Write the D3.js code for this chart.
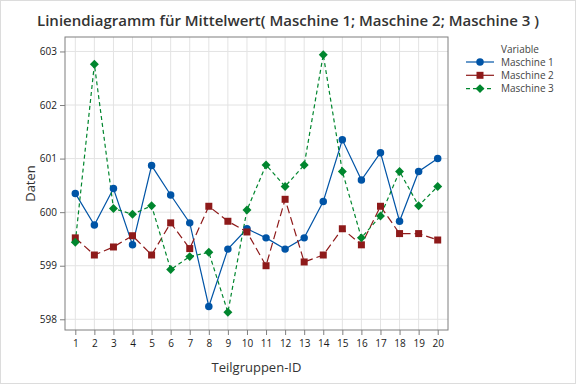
<!DOCTYPE html>
<html>
<head>
<meta charset="utf-8">
<script src="https://cdn.jsdelivr.net/npm/d3@7"></script>
<style>
  body { margin: 0; background: #fff; }
  svg { font-family: "Open Sans", "Noto Sans", sans-serif; }
</style>
</head>
<body>
<div id="chart"></div>
<script>
const ids = d3.range(1, 21);
const maschine1 = [600.35, 599.76, 600.44, 599.39, 600.87, 600.32, 599.80, 598.24, 599.31, 599.69,
                   599.52, 599.31, 599.52, 600.20, 601.35, 600.60, 601.11, 599.83, 600.76, 601.00];
const maschine2 = [599.52, 599.20, 599.35, 599.56, 599.20, 599.80, 599.32, 600.11, 599.83, 599.63,
                   599.00, 600.24, 599.07, 599.20, 599.69, 599.39, 600.11, 599.60, 599.60, 599.48];
const maschine3 = [599.44, 602.76, 600.07, 599.96, 600.12, 598.93, 599.17, 599.25, 598.13, 600.04,
                   600.88, 600.48, 600.88, 602.94, 600.76, 599.52, 599.93, 600.76, 600.12, 600.48];
const yTicks = [598, 599, 600, 601, 602, 603];

// diamond = square turned by 45 degrees
const diamond = {
  draw(ctx, size) {
    const r = Math.sqrt(size / 2);
    ctx.moveTo(0, -r); ctx.lineTo(r, 0); ctx.lineTo(0, r); ctx.lineTo(-r, 0); ctx.closePath();
  }
};

const series = [
  {name: "Maschine 1", values: maschine1, color: "#0054a6", dash: null, symbol: d3.symbolCircle, size: 44},
  {name: "Maschine 2", values: maschine2, color: "#8e1a1a", dash: "8,4", symbol: d3.symbolSquare, size: 49},
  {name: "Maschine 3", values: maschine3, color: "#00862e", dash: "4,3", symbol: diamond, size: 40}
];

const width = 576, height = 384;
const margin = {top: 37, right: 128, bottom: 54, left: 65};

const svg = d3.select("#chart").append("svg")
    .attr("width", width)
    .attr("height", height);

svg.append("rect")
    .attr("x", 0.5).attr("y", 0.5)
    .attr("width", width - 1).attr("height", height - 1)
    .attr("fill", "#fff").attr("stroke", "#dcdcdc");

const x = d3.scalePoint()
    .domain(ids)
    .range([margin.left, width - margin.right])
    .padding(0.54);

const y = d3.scaleLinear()
    .domain([597.8, 603.27])
    .range([height - margin.bottom, margin.top]);

// grid
const grid = svg.append("g");
grid.selectAll(".vg").data(ids).enter().append("line")
    .attr("x1", d => x(d)).attr("x2", d => x(d))
    .attr("y1", margin.top).attr("y2", height - margin.bottom)
    .attr("stroke", "#e3e3e3");
grid.selectAll(".hg").data(yTicks).enter().append("line")
    .attr("x1", margin.left).attr("x2", width - margin.right)
    .attr("y1", d => y(d)).attr("y2", d => y(d))
    .attr("stroke", "#e3e3e3");

// frame
svg.append("rect")
    .attr("x", margin.left).attr("y", margin.top)
    .attr("width", width - margin.right - margin.left)
    .attr("height", height - margin.bottom - margin.top)
    .attr("fill", "none").attr("stroke", "#7f7f7f");

// axes
const xAxis = svg.append("g")
    .attr("transform", `translate(0,${height - margin.bottom})`)
    .call(d3.axisBottom(x).tickSize(5).tickPadding(5));
const yAxis = svg.append("g")
    .attr("transform", `translate(${margin.left},0)`)
    .call(d3.axisLeft(y).tickValues(yTicks).tickFormat(d3.format("d")).tickSize(5).tickPadding(3));
[xAxis, yAxis].forEach(a => {
  a.select(".domain").remove();
  a.selectAll(".tick line").attr("stroke", "#7f7f7f");
  a.selectAll(".tick text").attr("fill", "#1a1a1a").style("font-size", "10px")
    .style("font-family", "'Open Sans', 'Noto Sans', sans-serif");
});

// lines and markers
const line = d3.line()
    .x((d, i) => x(ids[i]))
    .y(d => y(d));

series.forEach(s => {
  svg.append("path")
      .datum(s.values)
      .attr("d", line)
      .attr("fill", "none")
      .attr("stroke", s.color)
      .attr("stroke-width", 1.2)
      .attr("stroke-dasharray", s.dash);
});
series.forEach(s => {
  svg.append("g").selectAll("path")
      .data(s.values)
      .enter().append("path")
      .attr("transform", (d, i) => `translate(${x(ids[i])},${y(d)})`)
      .attr("d", d3.symbol().type(s.symbol).size(s.size))
      .attr("fill", s.color);
});

// titles
svg.append("text")
    .attr("x", 288).attr("y", 26)
    .attr("text-anchor", "middle")
    .attr("fill", "#333")
    .style("font-size", "15px")
    .style("font-weight", "600")
    .text("Liniendiagramm für Mittelwert( Maschine 1; Maschine 2; Maschine 3 )");

svg.append("text")
    .attr("x", (margin.left + width - margin.right) / 2)
    .attr("y", 372)
    .attr("text-anchor", "middle")
    .attr("fill", "#333")
    .style("font-size", "13px")
    .text("Teilgruppen-ID");

svg.append("text")
    .attr("transform", `translate(35,${(margin.top + height - margin.bottom) / 2}) rotate(-90)`)
    .attr("text-anchor", "middle")
    .attr("fill", "#333")
    .style("font-size", "13px")
    .text("Daten");

// legend
const legend = svg.append("g").attr("transform", "translate(466,0)");
legend.append("text")
    .attr("x", 35).attr("y", 53)
    .attr("fill", "#444")
    .style("font-size", "10px")
    .text("Variable");
series.forEach((s, i) => {
  const ly = 62 + i * 13.3;
  legend.append("line")
      .attr("x1", 0).attr("x2", 28)
      .attr("y1", ly).attr("y2", ly)
      .attr("stroke", s.color)
      .attr("stroke-width", 1.2)
      .attr("stroke-dasharray", i === 2 ? "4,3" : null);
  legend.append("path")
      .attr("transform", `translate(14,${ly})`)
      .attr("d", d3.symbol().type(s.symbol).size(s.size))
      .attr("fill", s.color);
  legend.append("text")
      .attr("x", 35).attr("y", ly + 3.5)
      .attr("fill", "#444")
      .style("font-size", "10px")
      .text(s.name);
});
</script>
</body>
</html>
